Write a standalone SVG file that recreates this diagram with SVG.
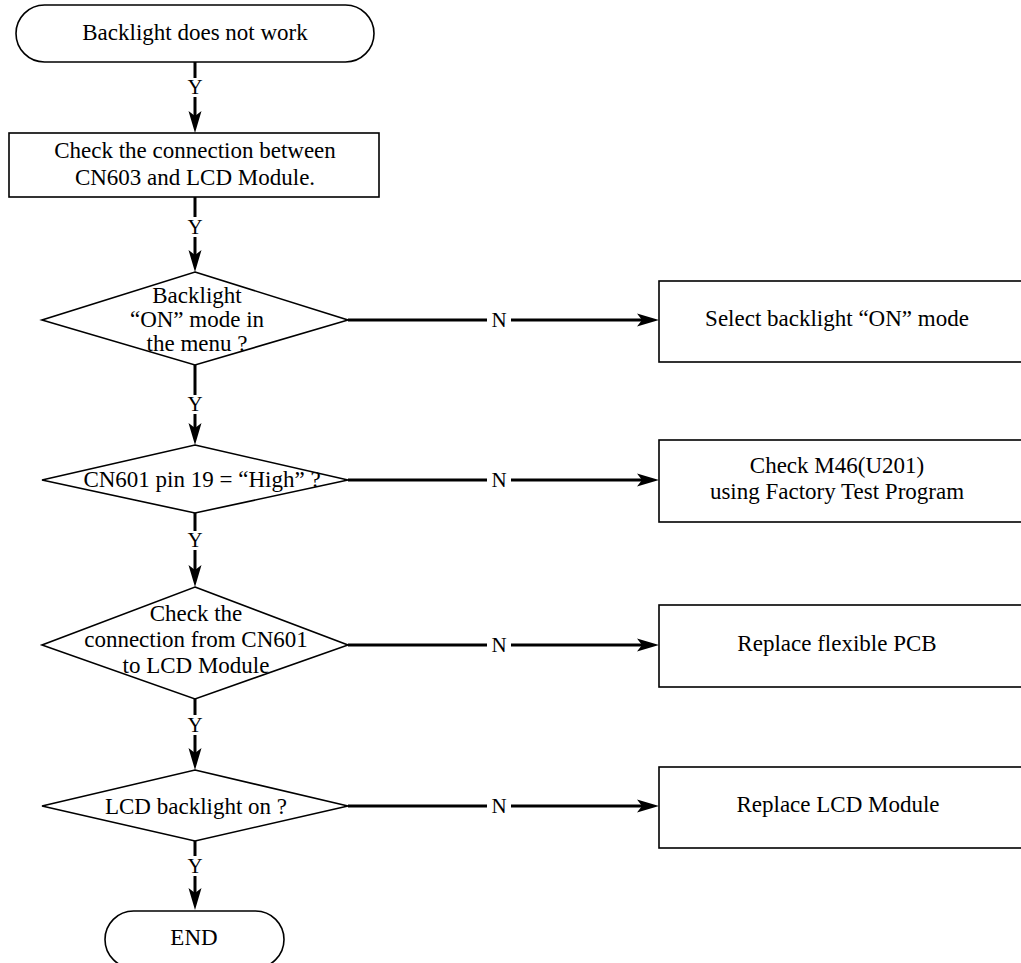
<svg xmlns="http://www.w3.org/2000/svg" width="1021" height="963" viewBox="0 0 1021 963">
<style>
.shape{fill:#fff;stroke:#000;stroke-width:1.6}
.conn{fill:none;stroke:#000;stroke-width:3}
.t{font-family:"Liberation Serif","Times New Roman",serif;font-size:23px;fill:#000;text-anchor:middle}
.lbl{font-family:"Liberation Serif","Times New Roman",serif;font-size:21px;fill:#000;text-anchor:middle}
</style>
<defs>
<marker id="ah" markerUnits="userSpaceOnUse" markerWidth="24" markerHeight="14" viewBox="0 -7 24 14" refX="7" refY="0" orient="auto">
<path d="M22,0 L0,-6.5 L5,0 L0,6.5 Z" fill="#000"/>
</marker>
</defs>
<rect width="1021" height="963" fill="#fff"/>
<g id="connectors">
<line class="conn" x1="195" y1="62" x2="195" y2="78"/>
<line class="conn" x1="195" y1="97" x2="195" y2="118" marker-end="url(#ah)"/>
<text class="lbl" x="195" y="94">Y</text>
<line class="conn" x1="195" y1="197" x2="195" y2="217"/>
<line class="conn" x1="195" y1="237" x2="195" y2="257" marker-end="url(#ah)"/>
<text class="lbl" x="195" y="234">Y</text>
<line class="conn" x1="195" y1="365" x2="195" y2="395"/>
<line class="conn" x1="195" y1="414" x2="195" y2="430" marker-end="url(#ah)"/>
<text class="lbl" x="195" y="411">Y</text>
<line class="conn" x1="195" y1="513" x2="195" y2="531"/>
<line class="conn" x1="195" y1="550" x2="195" y2="572" marker-end="url(#ah)"/>
<text class="lbl" x="195" y="547">Y</text>
<line class="conn" x1="195" y1="699" x2="195" y2="715"/>
<line class="conn" x1="195" y1="735" x2="195" y2="755" marker-end="url(#ah)"/>
<text class="lbl" x="195" y="732">Y</text>
<line class="conn" x1="195" y1="841" x2="195" y2="856"/>
<line class="conn" x1="195" y1="876" x2="195" y2="895" marker-end="url(#ah)"/>
<text class="lbl" x="195" y="873">Y</text>

<line class="conn" x1="348" y1="320" x2="487" y2="320"/>
<line class="conn" x1="511" y1="320" x2="644" y2="320" marker-end="url(#ah)"/>
<text class="lbl" x="499" y="327">N</text>
<line class="conn" x1="348" y1="480" x2="487" y2="480"/>
<line class="conn" x1="511" y1="480" x2="644" y2="480" marker-end="url(#ah)"/>
<text class="lbl" x="499" y="487">N</text>
<line class="conn" x1="348" y1="645" x2="487" y2="645"/>
<line class="conn" x1="511" y1="645" x2="644" y2="645" marker-end="url(#ah)"/>
<text class="lbl" x="499" y="652">N</text>
<line class="conn" x1="348" y1="806" x2="487" y2="806"/>
<line class="conn" x1="511" y1="806" x2="644" y2="806" marker-end="url(#ah)"/>
<text class="lbl" x="499" y="813">N</text>
</g>

<g id="start">
<rect class="shape" x="16" y="5" width="358" height="57" rx="28.5" ry="28.5"/>
<text class="t" x="195" y="40">Backlight does not work</text>
</g>
<g id="check-connection">
<rect class="shape" x="9" y="133" width="370" height="64"/>
<text class="t" x="195" y="158">Check the connection between</text>
<text class="t" x="195" y="185">CN603 and LCD Module.</text>
</g>
<g id="decision-menu">
<polygon class="shape" points="195,272 348,320 195,365 42,320"/>
<text class="t" x="197" y="303">Backlight</text>
<text class="t" x="197" y="327">“ON” mode in</text>
<text class="t" x="197" y="351">the menu ?</text>
</g>
<g id="select-on">
<rect class="shape" x="659" y="281" width="372" height="81"/>
<text class="t" x="837" y="326">Select backlight “ON” mode</text>
</g>
<g id="decision-pin19">
<polygon class="shape" points="195,445 348,480 195,513 42,480"/>
<text class="t" x="202" y="487">CN601 pin 19 = “High” ?</text>
</g>
<g id="check-m46">
<rect class="shape" x="659" y="440" width="372" height="82"/>
<text class="t" x="837" y="473">Check M46(U201)</text>
<text class="t" x="837" y="499">using Factory Test Program</text>
</g>
<g id="decision-cn601">
<polygon class="shape" points="195,587 348,645 195,699 42,645"/>
<text class="t" x="196" y="621">Check the</text>
<text class="t" x="196" y="647">connection from CN601</text>
<text class="t" x="196" y="673">to LCD Module</text>
</g>
<g id="replace-pcb">
<rect class="shape" x="659" y="605" width="372" height="82"/>
<text class="t" x="837" y="651">Replace flexible PCB</text>
</g>
<g id="decision-backlight">
<polygon class="shape" points="195,770 348,806 195,841 42,806"/>
<text class="t" x="196" y="814">LCD backlight on ?</text>
</g>
<g id="replace-lcd">
<rect class="shape" x="659" y="767" width="372" height="81"/>
<text class="t" x="838" y="812">Replace LCD Module</text>
</g>
<g id="end">
<rect class="shape" x="105" y="911" width="179" height="57" rx="28.5" ry="28.5"/>
<text class="t" x="194" y="945">END</text>
</g>
</svg>
